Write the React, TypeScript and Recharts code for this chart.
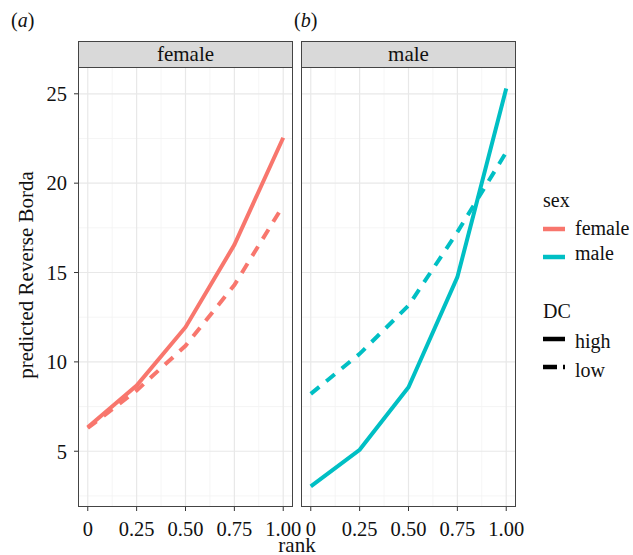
import React from 'react';
import { LineChart, Line, XAxis, YAxis, ReferenceLine } from 'recharts';

const ranks = [0, 0.25, 0.5, 0.75, 1];
const femaleHigh = [6.34, 8.68, 11.94, 16.55, 22.54];
const femaleLow = [6.3, 8.4, 10.9, 14.3, 18.75];
const maleHigh = [3.03, 5.08, 8.58, 14.74, 25.3];
const maleLow = [8.21, 10.45, 13.15, 17.26, 21.73];

const xTicks = [0, 0.25, 0.5, 0.75, 1];
const yTicks = [5, 10, 15, 20, 25];
const xMinor = [0.125, 0.375, 0.625, 0.875];
const yMinor = [2.5, 7.5, 12.5, 17.5, 22.5];

const FEMALE = '#F8766D';
const MALE = '#00BFC4';
const FONT = "'Liberation Serif', 'Times New Roman', serif";

const femaleRows = ranks.map((r, i) => ({ rank: r, high: femaleHigh[i], low: femaleLow[i] }));
const maleRows = ranks.map((r, i) => ({ rank: r, high: maleHigh[i], low: maleLow[i] }));

const fmtX = (v: number) => (v === 0 ? '0' : v.toFixed(2));

interface PanelProps {
  rows: { rank: number; high: number; low: number }[];
  color: string;
  showY: boolean;
  width: number;
  left: number;
  right: number;
}

const tickStyle = { fill: '#111', fontSize: 20.5, fontFamily: FONT };

const Panel: React.FC<PanelProps> = ({ rows, color, showY, width, left, right }) => (
  <LineChart
    width={width}
    height={555}
    data={rows}
    margin={{ top: 67, right, bottom: 8, left }}
  >
    {yMinor.map((v) => (
      <ReferenceLine key={'ym' + v} y={v} stroke="#f2f2f2" strokeWidth={0.8} />
    ))}
    {xMinor.map((v) => (
      <ReferenceLine key={'xm' + v} x={v} stroke="#f2f2f2" strokeWidth={0.8} />
    ))}
    {yTicks.map((v) => (
      <ReferenceLine key={'y' + v} y={v} stroke="#e8e8e8" strokeWidth={1.2} />
    ))}
    {xTicks.map((v) => (
      <ReferenceLine key={'x' + v} x={v} stroke="#e8e8e8" strokeWidth={1.2} />
    ))}
    <XAxis
      dataKey="rank"
      type="number"
      domain={[-0.05, 1.05]}
      allowDataOverflow
      ticks={xTicks}
      tickFormatter={fmtX}
      axisLine={false}
      tickSize={4}
      tickMargin={10}
      tickLine={{ stroke: '#333' }}
      tick={tickStyle}
      height={40}
      interval={0}
    />
    <YAxis
      type="number"
      domain={[1.88, 26.5]}
      allowDataOverflow
      ticks={yTicks}
      axisLine={false}
      tickSize={4}
      tickMargin={7}
      tickLine={{ stroke: '#333' }}
      tick={tickStyle}
      width={showY ? 40 : 0}
      hide={!showY}
    />
    <Line
      type="linear"
      dataKey="low"
      stroke={color}
      strokeWidth={4}
      strokeDasharray="11 9"
      dot={false}
      isAnimationActive={false}
    />
    <Line
      type="linear"
      dataKey="high"
      stroke={color}
      strokeWidth={4}
      dot={false}
      isAnimationActive={false}
    />
  </LineChart>
);

const abs = (s: React.CSSProperties): React.CSSProperties => ({ position: 'absolute', ...s });

// baseline is the y of the text baseline, keyY the y of the key line
const LegendKey: React.FC<{ keyY: number; baseline: number; color: string; dash?: string; label: string }> = ({
  keyY,
  baseline,
  color,
  dash,
  label,
}) => (
  <>
    <svg style={abs({ left: 540, top: keyY - 8, width: 28, height: 16 })}>
      <line x1={3} y1={8} x2={25} y2={8} stroke={color} strokeWidth={4.5} strokeDasharray={dash} />
    </svg>
    <svg style={abs({ left: 570, top: baseline - 20, width: 63, height: 26, overflow: 'visible' })}>
      <text x={5} y={20} fontSize={20} fontFamily={FONT} fill="#111">
        {label}
      </text>
    </svg>
  </>
);

const strip: React.CSSProperties = {
  position: 'absolute',
  top: 41,
  width: 215,
  height: 27,
  background: '#d9d9d9',
  border: '1.3px solid #444',
  boxSizing: 'border-box',
  textAlign: 'center',
  fontSize: 21,
  lineHeight: '24px',
};

export default function App() {
  return (
    <div
      style={{
        position: 'absolute',
        left: 0,
        top: 0,
        width: 633,
        height: 555,
        background: '#fff',
        fontFamily: FONT,
        color: '#111',
        overflow: 'hidden',
      }}
    >
      <div style={abs({ left: 0, top: 0 })}>
        <Panel rows={femaleRows} color={FEMALE} showY={true} width={310} left={38} right={17} />
      </div>
      <div style={abs({ left: 289, top: 0 })}>
        <Panel rows={maleRows} color={MALE} showY={false} width={240} left={12} right={13} />
      </div>

      {/* panel borders and strips */}
      <div style={abs({ left: 78, top: 67, width: 215, height: 440, border: '1.3px solid #444', boxSizing: 'border-box' })} />
      <div style={abs({ left: 301, top: 67, width: 215, height: 440, border: '1.3px solid #444', boxSizing: 'border-box' })} />
      <div style={{ ...strip, left: 78 }}>female</div>
      <div style={{ ...strip, left: 301 }}>male</div>

      {/* panel tags */}
      <div style={abs({ left: 11, top: 9, fontSize: 20 })}>
        (<i>a</i>)
      </div>
      <div style={abs({ left: 294, top: 9, fontSize: 20 })}>
        (<i>b</i>)
      </div>

      {/* axis titles */}
      <div
        style={abs({
          left: 26, top: 275, fontSize: 21, whiteSpace: 'nowrap',
          transform: 'translate(-50%, -50%) rotate(-90deg)',
        })}
      >
        predicted Reverse Borda
      </div>
      <svg style={abs({ left: 267, top: 532, width: 60, height: 23 })}>
        <text x={30} y={20} textAnchor="middle" fontSize={21} fontFamily={FONT} fill="#111">rank</text>
      </svg>

      {/* legend */}
      <svg style={abs({ left: 540, top: 185, width: 60, height: 26 })}>
        <text x={3} y={21.5} fontSize={20} fontFamily={FONT} fill="#111">sex</text>
      </svg>
      <LegendKey keyY={228.5} baseline={235} color={FEMALE} label="female" />
      <LegendKey keyY={256.5} baseline={260} color={MALE} label="male" />
      <svg style={abs({ left: 540, top: 297, width: 60, height: 26 })}>
        <text x={3} y={21} fontSize={20} fontFamily={FONT} fill="#111">DC</text>
      </svg>
      <LegendKey keyY={338.5} baseline={348} color="#000" label="high" />
      <LegendKey keyY={366.5} baseline={376.5} color="#000" dash="14 6" label="low" />
    </div>
  );
}
